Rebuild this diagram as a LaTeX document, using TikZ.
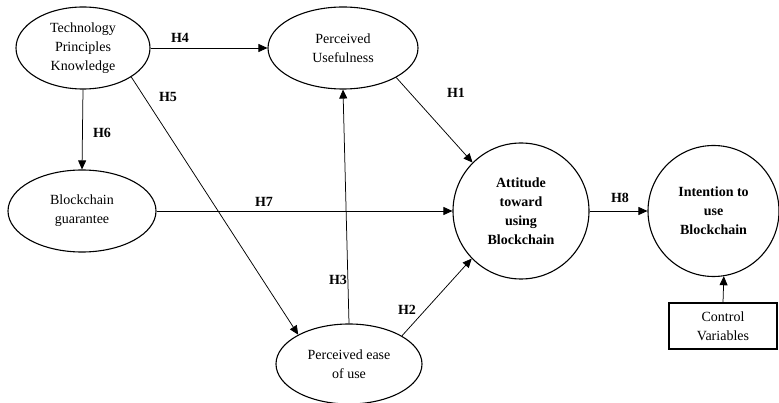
\documentclass[tikz,border=0pt]{standalone}
\usepackage{fontspec}
\setmainfont{Liberation Serif}
\usetikzlibrary{shapes.geometric,arrows.meta}
\begin{document}
\begin{tikzpicture}[x=1pt,y=-1pt,
  every node/.style={font=\fontsize{14}{19}\selectfont},
  oval/.style={ellipse,draw,line width=1.1pt,inner sep=0pt,align=center},
  circ/.style={circle,draw,line width=1.1pt,inner sep=0pt,minimum size=131pt,align=center,font=\fontsize{14}{19}\selectfont\bfseries},
  hyp/.style={font=\fontsize{14}{19}\selectfont\bfseries,inner sep=0pt},
  arr/.style={-{Triangle[length=9pt,width=8pt]},line width=0.75pt}]
\useasboundingbox (0,0) rectangle (779,403);
\node[oval,minimum width=134pt,minimum height=82pt] (tpk) at (83,48) {Technology\\Principles\\Knowledge};
\node[oval,minimum width=150pt,minimum height=82pt] (pu) at (343,48) {Perceived\\Usefulness};
\node[oval,minimum width=148pt,minimum height=82pt] (bg) at (82,211) {Blockchain\\guarantee};
\node[oval,minimum width=146pt,minimum height=80pt] (peou) at (349,364) {Perceived ease\\of use};
\node[circ,minimum size=136pt] (att) at (521,211) {Attitude\\toward\\using\\Blockchain};
\node[circ] (int) at (713.5,211) {Intention to\\use\\Blockchain};
\node[draw,line width=1.1pt,minimum width=108pt,minimum height=46pt,inner sep=0pt,align=center] (ctrl) at (723,326) {Control\\Variables};

\node[hyp] (h4) at (180,38) {H4};
\node[hyp] (h6) at (102,133) {H6};
\node[hyp] (h5) at (168,97) {H5};
\node[hyp] (h7) at (264,202) {H7};
\node[hyp] (h3) at (338,280) {H3};
\node[hyp] (h1) at (456,93) {H1};
\node[hyp] (h2) at (407,310) {H2};
\node[hyp] (h8) at (620,198) {H8};

\draw[arr] (tpk.east) -- (pu.west);
\draw[arr] (tpk.south) -- (bg.north);
\draw[arr] (tpk.-31) -- (peou.150.5);
\draw[arr] (bg.east) -- (att.west);
\draw[arr] (peou.north) -- (pu.south);
\draw[arr] (pu.-29) -- (att.135);
\draw[arr] (peou.28) -- (att.-136);
\draw[arr] (att.east) -- (int.west);
\draw[arr] (ctrl.north) -- (int.-81.5);
\end{tikzpicture}
\end{document}
